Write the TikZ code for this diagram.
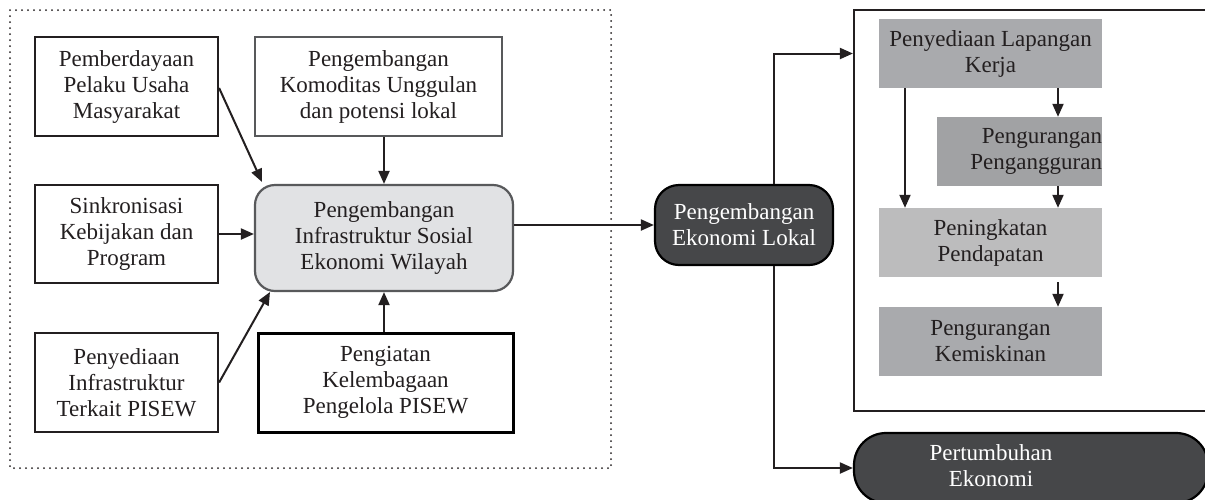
\documentclass[tikz,border=0pt]{standalone}
\usepackage{fontspec}
\setmainfont{Liberation Serif}
\usetikzlibrary{arrows.meta,calc}
\definecolor{ink}{HTML}{231F20}
\definecolor{cenfill}{HTML}{E1E2E4}
\definecolor{cenline}{HTML}{58595B}
\definecolor{dark}{HTML}{464749}
\definecolor{grayA}{HTML}{A9AAAD}
\definecolor{grayB}{HTML}{BCBCBD}
\tikzset{
  every node/.style={font=\fontsize{23}{26}\selectfont, text=ink, align=center, inner sep=0pt},
  wbox/.style={draw=ink, line width=2.2pt, fill=white},
  gbox/.style={fill=grayA},
  darkbox/.style={draw=black, line width=2.2pt, fill=dark, rounded corners=24pt, text=white},
  conn/.style={draw=ink, line width=2pt, -{Triangle[length=13pt,width=11pt]}},
}
\begin{document}
\begin{tikzpicture}[x=1pt,y=-1pt]
\clip (0,0) rectangle (1205,499);
\fill[white] (0,0) rectangle (1205,499);
% dotted container
\draw[ink, line width=2pt, dash pattern=on 0pt off 6pt, line cap=round] (10,10) rectangle (611,468);
% left boxes
\node[wbox, minimum width=183, minimum height=99] (pem) at (126.5,86.5) {Pemberdayaan\\Pelaku Usaha\\Masyarakat};
\node[wbox, draw=cenline, minimum width=247, minimum height=99] (kom) at (378.5,86.5) {Pengembangan\\Komoditas Unggulan\\dan potensi lokal};
\node[wbox, minimum width=183, minimum height=98] (sin) at (126.5,234) {Sinkronisasi\\Kebijakan dan\\Program};
\node[draw=cenline, line width=2.2pt, fill=cenfill, rounded corners=20pt, minimum width=258, minimum height=106] (cen) at (384,238) {Pengembangan\\Infrastruktur Sosial\\Ekonomi Wilayah};
\node[wbox, minimum width=183, minimum height=99] (pen) at (126.5,382.5) {Penyediaan\\Infrastruktur\\Terkait PISEW};
\node[wbox, draw=black, line width=3pt, minimum width=255, minimum height=99] (pgi) at (385.5,382.5) {Pengiatan\\Kelembagaan\\Pengelola PISEW};
% middle
\node[darkbox, minimum width=178, minimum height=80] (eko) at (744,225) {Pengembangan\\Ekonomi Lokal};
% right frame
\node[draw=ink, line width=2.2pt, minimum width=361, minimum height=401] (frame) at (1034.5,210.5) {};
\node[gbox, minimum width=223, minimum height=69] (lap) at (990.5,53.5) {Penyediaan Lapangan\\Kerja};
\node[gbox, fill=grayA!95!black, minimum height=69, text width=165, align=right] (ang) at (1019.5,151.5) {Pengurangan\\Pengangguran};
\node[gbox, fill=grayB, minimum width=223, minimum height=69] (pnd) at (990.5,242.5) {Peningkatan\\Pendapatan};
\node[gbox, minimum width=223, minimum height=69] (mis) at (990.5,341.5) {Pengurangan\\Kemiskinan};
\node[darkbox, rounded corners=32pt, minimum width=354, minimum height=70] (pert) at (1031,468) {};
\node[text=white] (pertT) at (991,466) {Pertumbuhan\\Ekonomi};
% connectors
\draw[conn] (pem.east |- 0,88) -- (262,182);
\draw[conn] (kom.south -| cen.north) -- (cen.north);
\draw[conn] (sin.east) -- (sin.east -| cen.west);
\draw[conn] (pen.east) -- (270,292);
\draw[conn] (pgi.north -| cen.south) -- (cen.south);
\draw[conn] (cen.east |- eko.west) -- (eko.west);
\draw[conn] (eko.north -| 774,0) |- (frame.west |- lap.center);
\draw[conn] (eko.south -| 774,0) |- (pert.west);
\draw[conn] (lap.south -| 905,0) -- (pnd.north -| 905,0);
\draw[conn] (lap.south -| 1058,0) -- (ang.north -| 1058,0);
\draw[conn] (ang.south -| 1058,0) -- (pnd.north -| 1058,0);
\draw[conn] (pnd.south -| 1058,0) ++(0,5) -- (mis.north -| 1058,0);
\end{tikzpicture}
\end{document}
